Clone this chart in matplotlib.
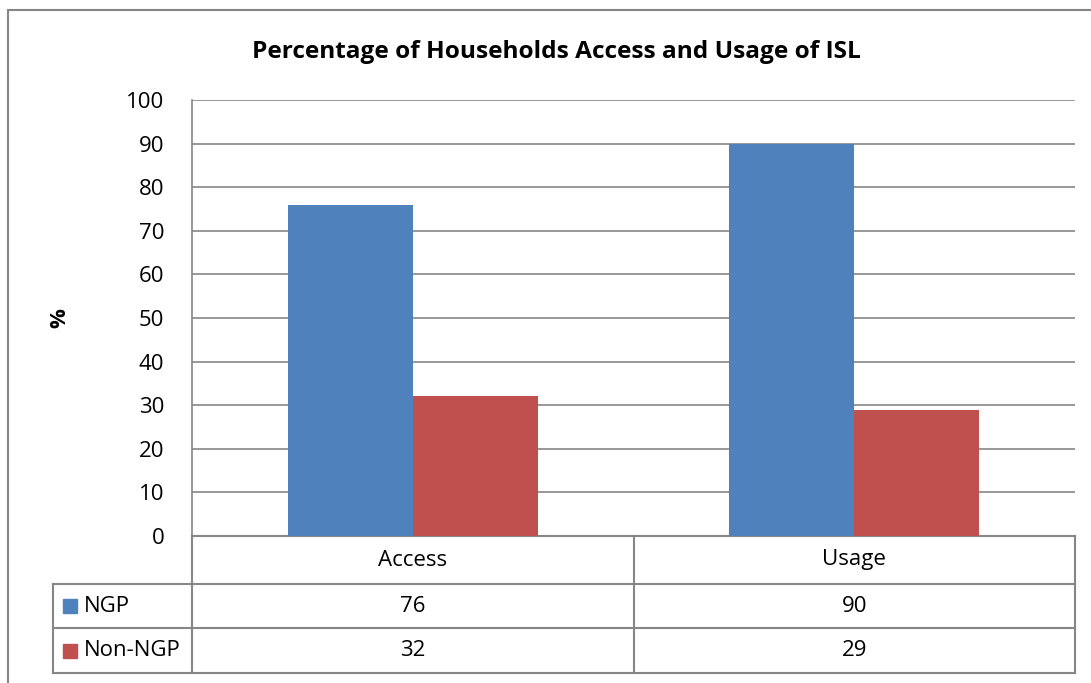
import matplotlib.pyplot as plt
from matplotlib.patches import Rectangle
from matplotlib.lines import Line2D

plt.rcParams['font.family'] = ['Open Sans', 'DejaVu Sans']

categories = ['Access', 'Usage']
series_names = ['NGP', 'Non-NGP']
ngp = [76, 90]
non_ngp = [32, 29]
series_colors = ['#4F81BD', '#C0504D']
grid_col = '#868686'

W, H = 1091, 683
fig = plt.figure(figsize=(W / 100, H / 100), dpi=100)
ax = fig.add_axes([192 / W, 1 - 536 / H, 883 / W, 436 / H])

bw = 0.2834
x = list(range(len(categories)))
ax.bar([i - bw / 2 for i in x], ngp, width=bw, color=series_colors[0], zorder=3)
ax.bar([i + bw / 2 for i in x], non_ngp, width=bw, color=series_colors[1], zorder=3)

ax.set_xlim(-0.5, len(categories) - 0.5)
ax.set_ylim(0, 100)
ax.set_yticks(range(0, 101, 10))
ax.set_xticks([])
ax.tick_params(axis='y', length=0, labelsize=16, pad=20)
ax.yaxis.grid(True, color=grid_col, linewidth=1.2, zorder=0)
for s in ['top', 'right', 'bottom']:
    ax.spines[s].set_visible(False)
ax.spines['left'].set_color(grid_col)
ax.spines['left'].set_linewidth(1.2)

fig.text(60 / W, 1 - 318 / H, '%', rotation=90, ha='center', va='center',
         fontsize=16, fontweight='bold')

fig.text(556 / W, 1 - 52 / H, 'Percentage of Households Access and Usage of ISL',
         ha='center', va='center', fontsize=17.6, fontweight='bold')

# data table below the plot (axes fraction in y)
tr = ax.get_xaxis_transform()
def pix_y(py):
    return (536 - py) / 436

y0, y1, y2, y3 = 0, pix_y(584), pix_y(628), pix_y(673)
xl = -0.5 + (53 - 192) / 883 * len(categories)
xr = len(categories) - 0.5
kw = dict(transform=tr, color=grid_col, linewidth=1.5, clip_on=False)
lines = [
    ([-0.5, xr], [y0, y0]),
    ([xl, xr], [y1, y1]),
    ([xl, xr], [y2, y2]),
    ([xl, xr], [y3, y3]),
    ([xl, xl], [y1, y3]),
    ([-0.5, -0.5], [y0, y3]),
]
for i in range(len(categories)):
    lines.append(([i + 0.5, i + 0.5], [y0, y3]))
for xs, ys in lines:
    ax.add_line(Line2D(xs, ys, **kw))

for i, c in enumerate(categories):
    ax.text(i, (y0 + y1) / 2, c, transform=tr, ha='center', va='center', fontsize=16)
    ax.text(i, (y1 + y2) / 2, str(ngp[i]), transform=tr, ha='center', va='center', fontsize=16)
    ax.text(i, (y2 + y3) / 2, str(non_ngp[i]), transform=tr, ha='center', va='center', fontsize=16)

inv = fig.transFigure.inverted()
for j, (name, col) in enumerate(zip(series_names, series_colors)):
    yc = [(y1 + y2) / 2, (y2 + y3) / 2][j]
    yf = inv.transform(ax.transAxes.transform((0, yc)))[1]
    fig.patches.append(Rectangle((63 / W, yf - 7 / H), 14 / W, 14 / H,
                                 color=col, transform=fig.transFigure))
    fig.text(84 / W, yf, name, ha='left', va='center', fontsize=16)

# outer chart border
fig.patches.append(Rectangle((8 / W, -0.1), 1.2, 1 - 10 / H + 0.1, fill=False,
                             edgecolor=grid_col, linewidth=1.5, transform=fig.transFigure))

fig.savefig('out.png', dpi=100)
